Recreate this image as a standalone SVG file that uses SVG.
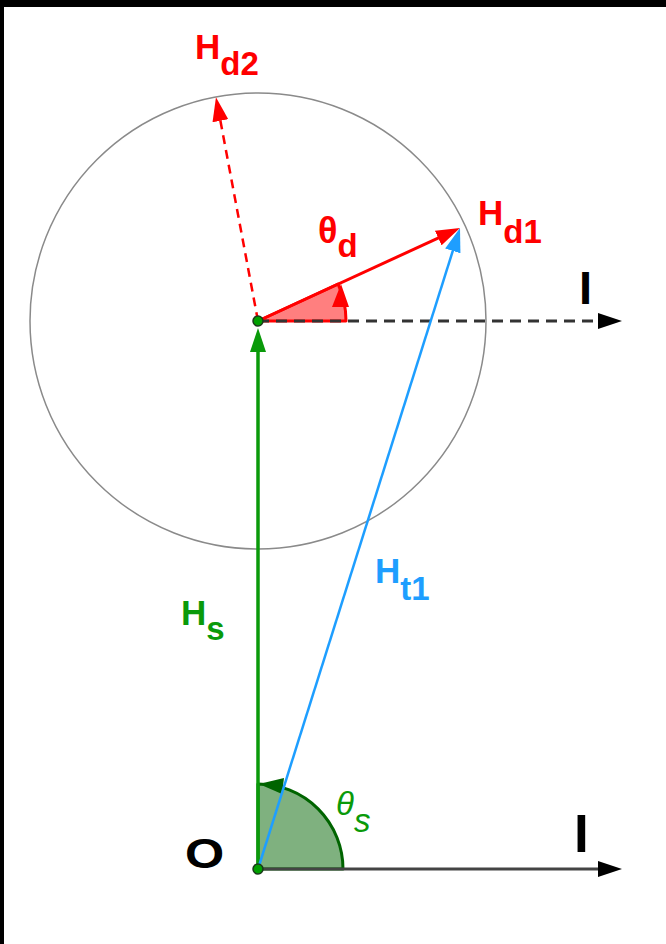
<svg xmlns="http://www.w3.org/2000/svg" width="666" height="944" viewBox="0 0 666 944">
<style>
.lbl{font-family:"Liberation Sans",Arial,sans-serif;font-weight:bold;font-size:35px}
.sub{font-size:33px}
.red{fill:#ff0000}
.grn{fill:#0a9a0a}
.blu{fill:#1e9eff}
.blk{fill:#000}
</style>
<defs>
<marker id="aBlk" viewBox="0 0 24 16" refX="13" refY="8" markerWidth="24" markerHeight="16" orient="auto" markerUnits="userSpaceOnUse"><path d="M0,0 L24,8 L0,16 Z" fill="#000"/></marker>
<marker id="aRed" viewBox="0 0 24 16" refX="13" refY="8" markerWidth="24" markerHeight="16" orient="auto" markerUnits="userSpaceOnUse"><path d="M0,0 L24,8 L0,16 Z" fill="#ff0000"/></marker>
<marker id="aGrn" viewBox="0 0 24 16" refX="13" refY="8" markerWidth="24" markerHeight="16" orient="auto" markerUnits="userSpaceOnUse"><path d="M0,0 L24,8 L0,16 Z" fill="#0a9a0a"/></marker>
<marker id="aBlu" viewBox="0 0 24 16" refX="13" refY="8" markerWidth="24" markerHeight="16" orient="auto" markerUnits="userSpaceOnUse"><path d="M0,0 L24,8 L0,16 Z" fill="#1e9eff"/></marker>
</defs>
<rect x="0" y="0" width="666" height="944" fill="#fff"/>
<rect x="0" y="0" width="666" height="7" fill="#000"/>
<rect x="0" y="0" width="4" height="944" fill="#000"/>

<g id="circle">
<circle cx="258" cy="321" r="228" fill="none" stroke="#8a8a8a" stroke-width="1.5"/>
</g>

<g id="angle-d">
<path d="M258,321 L346,321 A88,88 0 0,0 338,284 Z" fill="#ff0000" fill-opacity="0.5" stroke="#ff0000" stroke-width="3" stroke-linejoin="round"/>
<polygon points="341,284 332,307 349,307" fill="#ff0000"/>
</g>

<g id="angle-s">
<path d="M258,869 L343,869 A85,85 0 0,0 258,784 Z" fill="#006400" fill-opacity="0.5" stroke="#006400" stroke-width="3" stroke-linejoin="round"/>
<polygon points="259,784 284,778 282,794" fill="#006400"/>
</g>

<g id="connectors" fill="none">
<line x1="258" y1="321" x2="611" y2="321" stroke="#333" stroke-width="3" stroke-dasharray="11,7" marker-end="url(#aBlk)"/>
<line x1="258" y1="869" x2="611" y2="869" stroke="#444" stroke-width="3" marker-end="url(#aBlk)"/>
<line x1="258" y1="321" x2="218" y2="108" stroke="#ff0000" stroke-width="2.5" stroke-dasharray="9,6" marker-end="url(#aRed)"/>
<line x1="258" y1="321" x2="450" y2="232.6" stroke="#ff0000" stroke-width="3" marker-end="url(#aRed)"/>
<line x1="258" y1="869" x2="258" y2="339" stroke="#0a9a0a" stroke-width="3.5" marker-end="url(#aGrn)"/>
<line x1="258" y1="869" x2="456.7" y2="238.5" stroke="#1e9eff" stroke-width="2.5" marker-end="url(#aBlu)"/>
</g>

<g id="point-C"><circle cx="258" cy="321" r="5" fill="#00a000" stroke="#1a3a1a" stroke-width="1.5"/></g>
<g id="point-O"><circle cx="258" cy="869" r="5" fill="#00a000" stroke="#1a3a1a" stroke-width="1.5"/></g>

<g id="label-Hd2"><text class="lbl red" x="195" y="59">H<tspan class="sub" dy="16">d2</tspan></text></g>
<g id="label-Hd1"><text class="lbl red" x="478" y="225">H<tspan class="sub" dy="18">d1</tspan></text></g>
<g id="label-thetad"><text class="lbl red" x="318" y="243" style="font-size:36px">θ<tspan class="sub" dy="14">d</tspan></text></g>
<g id="label-Ht1"><text class="lbl blu" x="375" y="583">H<tspan class="sub" dy="17">t1</tspan></text></g>
<g id="label-Hs"><text class="lbl grn" x="181" y="625">H<tspan class="sub" dy="15">s</tspan></text></g>
<g id="label-thetas"><text class="grn" x="336" y="815" style="font-family:'Liberation Sans',Arial,sans-serif;font-style:italic;font-size:33px">θ<tspan dy="17">s</tspan></text></g>
<g id="label-O"><text class="lbl blk" transform="translate(185,868) scale(1.2,1)" x="0" y="0" style="font-size:42px">O</text></g>
<g id="label-I1"><text class="lbl blk" x="579" y="304" style="font-size:47px">I</text></g>
<g id="label-I2"><text class="lbl blk" x="574" y="852" style="font-size:53px">I</text></g>
</svg>
